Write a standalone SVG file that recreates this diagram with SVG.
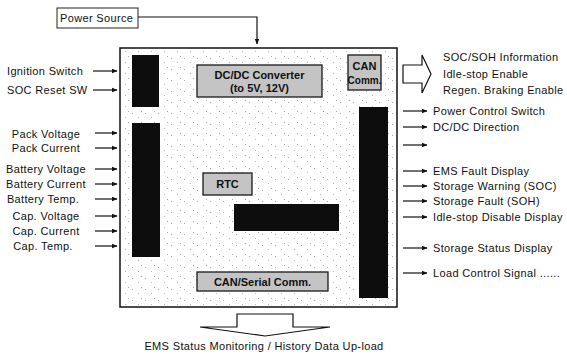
<svg xmlns="http://www.w3.org/2000/svg" width="567" height="354" viewBox="0 0 567 354">
<style>
text{font-family:"Liberation Sans",Arial,sans-serif;font-size:11px;fill:#111;letter-spacing:0.35px}
.b{font-weight:bold;letter-spacing:0}
.m{text-anchor:middle}
.conn{stroke:#111;stroke-width:1.2;fill:none;marker-end:url(#ah)}
.grey{fill:#c4c4c4;stroke:#1a1a1a;stroke-width:1.3}
.blk{fill:#0d0d0d}
.hollow{fill:#fff;stroke:#111;stroke-width:1.2}
</style>
<defs>
<marker id="ah" viewBox="0 0 10 10" refX="9" refY="5" markerWidth="6" markerHeight="6" markerUnits="userSpaceOnUse" orient="auto"><path d="M0,1 L10,5 L0,9 Z" fill="#111"/></marker>
<pattern id="dots" width="13" height="11" patternUnits="userSpaceOnUse"><rect x="2" y="3" width="1" height="1" fill="#aaa"/><rect x="8" y="7" width="1" height="1" fill="#bbb"/><rect x="11" y="1" width="1" height="1" fill="#aaa"/></pattern>
</defs>

<g id="power-source"><rect x="57" y="8" width="81" height="20" fill="#fff" stroke="#222" stroke-width="1"/><text x="60" y="22">Power Source</text></g>

<g id="ems-box"><rect x="120" y="48" width="277" height="259" fill="#fff" stroke="#111" stroke-width="1.5"/><rect x="121" y="49" width="275" height="257" fill="url(#dots)"/></g>

<g id="input-bar-1"><rect class="blk" x="132" y="55" width="27" height="52"/></g>
<g id="input-bar-2"><rect class="blk" x="132" y="123" width="28" height="134"/></g>
<g id="output-bar"><rect class="blk" x="359" y="107" width="29" height="191"/></g>
<g id="mid-block"><rect class="blk" x="234" y="204" width="105" height="27"/></g>

<g id="dcdc"><rect class="grey" x="197" y="65" width="125" height="32"/><text class="b m" x="259.5" y="79">DC/DC Converter</text><text class="b m" x="259.5" y="92">(to 5V, 12V)</text></g>
<g id="can-comm"><rect class="grey" x="348" y="55" width="33" height="35"/><text class="b m" x="364.5" y="70">CAN</text><text class="b m" x="364.5" y="84" style="font-size:10px">Comm.</text></g>
<g id="rtc"><rect class="grey" x="203" y="173" width="49" height="22" stroke-width="1.5"/><text class="b m" x="227.5" y="188">RTC</text></g>
<g id="can-serial"><rect class="grey" x="197" y="272" width="131" height="19"/><text class="b m" x="262.5" y="286">CAN/Serial Comm.</text></g>

<g id="out-top-arrow"><path class="hollow" d="M403,65 L422,65 L422,55 L431,74 L422,93 L422,83 L403,83 Z"/></g>
<g id="out-bottom-arrow"><path class="hollow" d="M237,314 L293,314 L293,327 L330,327 L265,336 L200,327 L237,327 Z"/></g>

<g id="connectors">
<polyline class="conn" points="138,17 257,17 257,44"/>
<line class="conn" x1="93" y1="71" x2="117" y2="71"/>
<line class="conn" x1="93" y1="90" x2="117" y2="90"/>
<line class="conn" x1="95" y1="133" x2="117" y2="133"/>
<line class="conn" x1="95" y1="148" x2="117" y2="148"/>
<line class="conn" x1="95" y1="169" x2="117" y2="169"/>
<line class="conn" x1="95" y1="184" x2="117" y2="184"/>
<line class="conn" x1="95" y1="199" x2="117" y2="199"/>
<line class="conn" x1="95" y1="216" x2="117" y2="216"/>
<line class="conn" x1="95" y1="231" x2="117" y2="231"/>
<line class="conn" x1="95" y1="246" x2="117" y2="246"/>
<line class="conn" x1="403" y1="111" x2="427" y2="111"/>
<line class="conn" x1="403" y1="127" x2="427" y2="127"/>
<line class="conn" x1="403" y1="145" x2="427" y2="145"/>
<line class="conn" x1="403" y1="171" x2="427" y2="171"/>
<line class="conn" x1="403" y1="186" x2="427" y2="186"/>
<line class="conn" x1="403" y1="201" x2="427" y2="201"/>
<line class="conn" x1="403" y1="217" x2="427" y2="217"/>
<line class="conn" x1="403" y1="248" x2="427" y2="248"/>
<line class="conn" x1="403" y1="273" x2="427" y2="273"/>
</g>

<g id="labels">
<text x="7" y="75">Ignition Switch</text>
<text x="7" y="94">SOC Reset SW</text>
<text class="m" x="46" y="138">Pack Voltage</text>
<text class="m" x="46" y="152">Pack Current</text>
<text class="m" x="46" y="173">Battery Voltage</text>
<text class="m" x="46" y="188">Battery Current</text>
<text class="m" x="43" y="203">Battery Temp.</text>
<text class="m" x="46" y="220">Cap. Voltage</text>
<text class="m" x="46" y="235">Cap. Current</text>
<text class="m" x="43" y="250">Cap. Temp.</text>
<text x="443" y="61">SOC/SOH Information</text>
<text x="443" y="78">Idle-stop Enable</text>
<text x="443" y="94">Regen. Braking Enable</text>
<text x="433" y="115">Power Control Switch</text>
<text x="433" y="131">DC/DC Direction</text>
<text x="433" y="175">EMS Fault Display</text>
<text x="433" y="190">Storage Warning (SOC)</text>
<text x="433" y="205">Storage Fault (SOH)</text>
<text x="433" y="221">Idle-stop Disable Display</text>
<text x="433" y="252">Storage Status Display</text>
<text x="433" y="277">Load Control Signal ......</text>
<text class="m" x="264" y="350">EMS Status Monitoring / History Data Up-load</text>
</g>
</svg>
